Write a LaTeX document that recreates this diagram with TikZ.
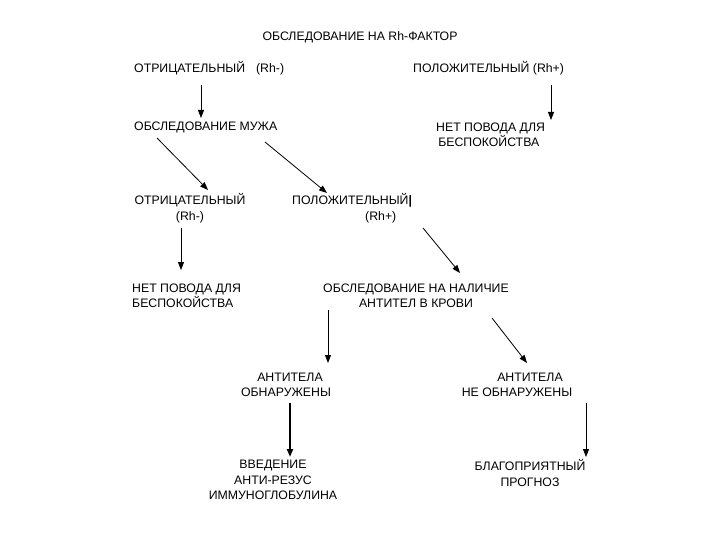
\documentclass[tikz,border=0pt]{standalone}
\usepackage{fontspec}
\setmainfont{Liberation Sans}
\usetikzlibrary{arrows.meta}

\begin{document}
\begin{tikzpicture}[x=1pt,y=-1pt,>={Triangle[length=8pt,width=6pt]},
  txt/.style={inner sep=0pt,font=\fontsize{12.3}{15.5}\selectfont},
  arr/.style={->,line width=0.8pt}]
\useasboundingbox[fill=white](0,0)rectangle(720,540);
\node[txt](title)at(360,37){ОБСЛЕДОВАНИЕ НА Rh-ФАКТОР};
\node[txt,anchor=west](otr1)at(134,68){ОТРИЦАТЕЛЬНЫЙ\hspace{11pt}(Rh-)};
\node[txt,anchor=west](pol1)at(413,68){ПОЛОЖИТЕЛЬНЫЙ (Rh+)};
\node[txt,anchor=west](muzh)at(134,127){ОБСЛЕДОВАНИЕ МУЖА};
\node[txt,anchor=west,align=left](net1)at(436,135){НЕТ ПОВОДА ДЛЯ\\\,БЕСПОКОЙСТВА};
\node[txt,align=center](otr2)at(190,208){ОТРИЦАТЕЛЬНЫЙ\\(Rh-)};
\node[txt,anchor=west,align=left](pol2)at(292,208){ПОЛОЖИТЕЛЬНЫЙ\textbf{|}\\\hspace{73pt}(Rh+)};
\node[txt,anchor=west,align=left](net2)at(132,296){НЕТ ПОВОДА ДЛЯ\\БЕСПОКОЙСТВА};
\node[txt,align=center](obsl)at(416,296){ОБСЛЕДОВАНИЕ НА НАЛИЧИЕ\\АНТИТЕЛ В КРОВИ};
\node[txt,align=center](ant1)at(286,385){\hspace{8pt}АНТИТЕЛА\\ОБНАРУЖЕНЫ};
\node[txt,align=center](ant2)at(517,385){\hspace{26pt}АНТИТЕЛА\\НЕ ОБНАРУЖЕНЫ};
\node[txt,align=center](vved)at(273,480){ВВЕДЕНИЕ\\АНТИ-РЕЗУС\\ИММУНОГЛОБУЛИНА};
\node[txt,align=center](blag)at(530,473){БЛАГОПРИЯТНЫЙ\\ПРОГНОЗ};
\draw[arr]([shift={(67,17)}]otr1.west)--([shift={(67,-9)}]muzh.west);
\draw[arr]([shift={(138,17)}]pol1.west)--([shift={(115,-15)}]net1.west);
\draw[arr]([shift={(23,11)}]muzh.west)--([shift={(18,-18)}]otr2.center);
\draw[arr]([shift={(131,15)}]muzh.west)--([shift={(35,-15)}]pol2.west);
\draw[arr]([shift={(131,20)}]pol2.west)--([shift={(44,-23)}]obsl.center);
\draw[arr]([shift={(-9,20)}]otr2.center)--([shift={(49,-26)}]net2.west);
\draw[arr]([shift={(-88,14)}]obsl.center)--([shift={(42,-22)}]ant1.center);
\draw[arr]([shift={(76,22)}]obsl.center)--([shift={(10,-22)}]ant2.center);
\draw[arr,line width=2pt]([shift={(4,18)}]ant1.center)--([shift={(17,-23)}]vved.center);
\draw[arr]([shift={(69,18)}]ant2.center)--([shift={(56,-16)}]blag.center);
\end{tikzpicture}
\end{document}
